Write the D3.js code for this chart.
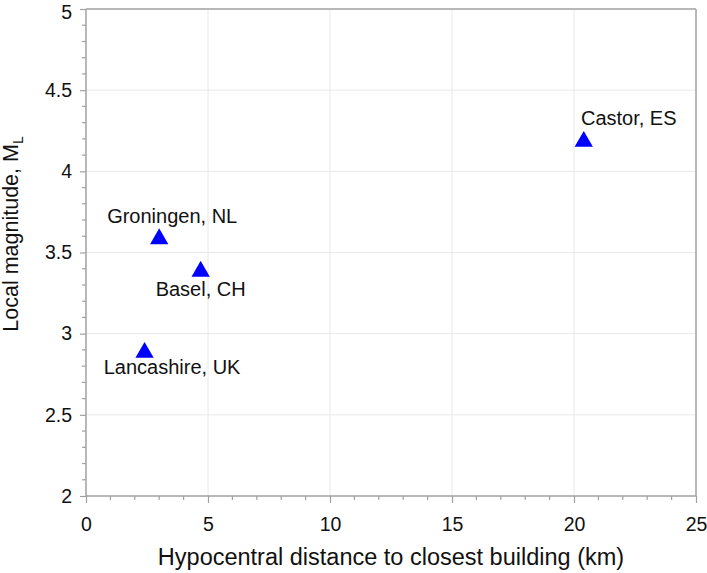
<!DOCTYPE html>
<html><head><meta charset="utf-8">
<script src="https://cdn.jsdelivr.net/npm/d3@7"></script>
<style>body{margin:0;background:#fff;}text{font-family:"Liberation Sans",Arial,sans-serif;}</style>
</head><body>
<svg id="chart" width="707" height="573"></svg>
<script>
const sites = ["Castor, ES", "Groningen, NL", "Basel, CH", "Lancashire, UK"];
const distances = [20.4, 3.0, 4.7, 2.4];
const magnitudes = [4.2, 3.6, 3.4, 2.9];
const xTicks = [0, 5, 10, 15, 20, 25];
const yTicks = [2, 2.5, 3, 3.5, 4, 4.5, 5];
const xTickLabels = ["0", "5", "10", "15", "20", "25"];
const yTickLabels = ["2", "2.5", "3", "3.5", "4", "4.5", "5"];

const svg = d3.select("#chart");
const L = 86, R = 696, T = 9, B = 496;
const x = d3.scaleLinear().domain([0, 25]).range([L, R]);
const y = d3.scaleLinear().domain([2, 5]).range([B, T]);
const axisColor = "#a0a0a0";

// label offsets (px) relative to marker
const labelDx = [45, 13, 0, 27.5];
const labelDy = [-14, -13.5, 27, 24];

svg.append("g").selectAll("line").data(xTicks.slice(1, -1)).join("line")
  .attr("x1", d => x(d)).attr("x2", d => x(d)).attr("y1", T).attr("y2", B)
  .attr("stroke", "#e8e8e8").attr("stroke-width", 1);
svg.append("g").selectAll("line").data(yTicks.slice(1, -1)).join("line")
  .attr("y1", d => y(d)).attr("y2", d => y(d)).attr("x1", L).attr("x2", R)
  .attr("stroke", "#e8e8e8").attr("stroke-width", 1);

const xMinor = d3.range(0, 25.001, 1).filter(v => v % 5 !== 0);
const yMinor = d3.range(20, 50.001, 1).map(v => v / 10).filter(v => Math.abs(v * 2 - Math.round(v * 2)) > 1e-6);

const xAxis = d3.axisBottom(x).tickValues(xTicks).tickFormat((d, i) => xTickLabels[i]).tickSize(7).tickPadding(14);
const yAxis = d3.axisLeft(y).tickValues(yTicks).tickFormat((d, i) => yTickLabels[i]).tickSize(6).tickPadding(8);

const gx = svg.append("g").attr("transform", `translate(0,${B})`).call(xAxis);
const gy = svg.append("g").attr("transform", `translate(${L},0)`).call(yAxis);
[gx, gy].forEach(g => {
  g.select(".domain").attr("stroke", axisColor).attr("stroke-width", 1.5);
  g.selectAll(".tick line").attr("stroke", axisColor).attr("stroke-width", 1.2);
  g.selectAll(".tick text").attr("fill", "#111").style("font-size", "19.5px").style("font-family", "Liberation Sans, Arial, sans-serif");
});
gx.selectAll(".domain").attr("d", `M${L},0H${R}`);
gy.selectAll(".domain").attr("d", `M0,${B}V${T}`);
// keep the top label "5" inside the picture
gy.selectAll(".tick text").filter(d => d === 5).attr("dy", "0.5em");

svg.append("g").selectAll("line").data(xMinor).join("line")
  .attr("x1", d => x(d)).attr("x2", d => x(d)).attr("y1", B).attr("y2", B + 4)
  .attr("stroke", axisColor).attr("stroke-width", 1.2);
svg.append("g").selectAll("line").data(yMinor).join("line")
  .attr("y1", d => y(d)).attr("y2", d => y(d)).attr("x1", L - 4).attr("x2", L)
  .attr("stroke", axisColor).attr("stroke-width", 1.2);

svg.append("line").attr("x1", L).attr("x2", R).attr("y1", T).attr("y2", T).attr("stroke", axisColor).attr("stroke-width", 1.5);
svg.append("line").attr("x1", R).attr("x2", R).attr("y1", T).attr("y2", B).attr("stroke", axisColor).attr("stroke-width", 1.5);

const triSize = 145;
const triY = Math.sqrt(triSize / (3 * Math.sqrt(3)));
const tri = d3.symbol().type(d3.symbolTriangle).size(triSize);
const data = sites.map((s, i) => ({ s, d: distances[i], m: magnitudes[i], i }));
svg.append("g").selectAll("path").data(data).join("path")
  .attr("d", tri)
  .attr("transform", d => `translate(${x(d.d)},${y(d.m) + triY / 2})`)
  .attr("fill", "#0000ff");

svg.append("g").selectAll("text").data(data).join("text")
  .attr("x", d => x(d.d) + labelDx[d.i])
  .attr("y", d => y(d.m) + labelDy[d.i])
  .attr("text-anchor", "middle")
  .style("font-size", "20px").attr("fill", "#111")
  .text(d => d.s);

svg.append("text").attr("x", (L + R) / 2).attr("y", 565).attr("text-anchor", "middle")
  .style("font-size", "23.5px").attr("fill", "#111").text("Hypocentral distance to closest building (km)");
const yt = svg.append("text").attr("transform", `translate(18,234) rotate(-90)`).attr("text-anchor", "middle")
  .style("font-size", "21.5px").attr("fill", "#111");
yt.append("tspan").text("Local magnitude, M");
yt.append("tspan").attr("dy", 5).style("font-size", "14px").text("L");
</script>
</body></html>
